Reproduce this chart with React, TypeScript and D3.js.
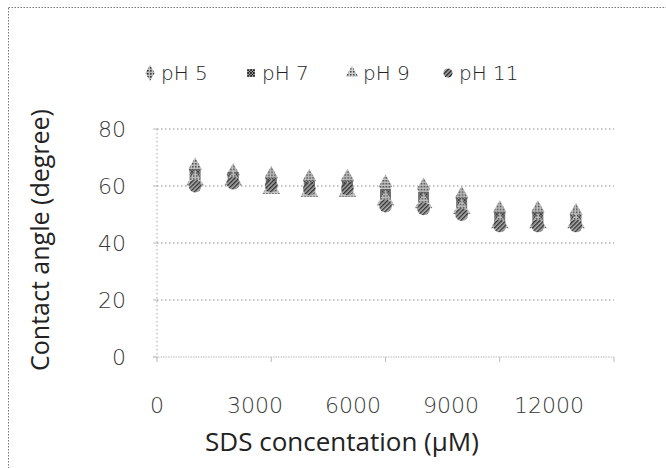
import React from "react";
import * as d3 from "d3";

const concentrations = [1000, 2000, 3000, 4000, 5000, 6000, 7000, 8000, 9000, 10000, 11000];
const pH5 = [66, 64, 63, 62, 62, 60, 59, 56, 51, 51, 50];
const pH7 = [64, 63, 61, 60, 60, 57, 56, 54, 49, 49, 48];
const pH9 = [62, 62, 59, 58, 58, 55, 54, 52, 47, 47, 47];
const pH11 = [60, 61, 60, 59, 59, 53, 52, 50, 46, 46, 46];
const seriesNames = ["pH 5", "pH 7", "pH 9", "pH 11"];
const xTicks = [0, 3000, 6000, 9000, 12000];
const yTicks = [0, 20, 40, 60, 80];

const W = 666;
const H = 468;
const plot = { left: 157, right: 614, top: 129, bottom: 357 };

export default function App() {
  const x = d3.scaleLinear().domain([0, 12000]).range([plot.left, plot.right]);
  const xLab = d3.scaleLinear().domain([0, 12000]).range([157, 549]);
  const y = d3.scaleLinear().domain([0, 80]).range([plot.bottom, plot.top]);
  const allSeries = [pH5, pH7, pH9, pH11];
  const symbols = [d3.symbolDiamond, d3.symbolSquare, d3.symbolTriangle, d3.symbolCircle];
  const sizes = [150, 120, 140, 130];
  const fills = ["url(#pDots)", "url(#pCross)", "url(#pDots2)", "url(#pHatch)"];
  const legendX = [150, 251, 352, 448];
  const font = "'DejaVu Sans', sans-serif";
  const titleFont = "'Open Sans', 'DejaVu Sans', sans-serif";

  return (
    <svg width={W} height={H} style={{ position: "absolute", left: 0, top: 0 }}>
      <defs>
        <pattern id="pDots" width="3" height="3" patternUnits="userSpaceOnUse">
          <rect width="3" height="3" fill="#bbb" />
          <rect width="1.6" height="1.6" fill="#333" />
        </pattern>
        <pattern id="pDots2" width="3" height="3" patternUnits="userSpaceOnUse">
          <rect width="3" height="3" fill="#ccc" />
          <rect x="1" y="1" width="1.5" height="1.5" fill="#444" />
        </pattern>
        <pattern id="pCross" width="3" height="3" patternUnits="userSpaceOnUse">
          <rect width="3" height="3" fill="#999" />
          <path d="M0,0 L3,3 M3,0 L0,3" stroke="#111" strokeWidth="0.8" />
        </pattern>
        <pattern id="pHatch" width="3" height="3" patternUnits="userSpaceOnUse" patternTransform="rotate(45)">
          <rect width="3" height="3" fill="#aaa" />
          <rect width="1.4" height="3" fill="#222" />
        </pattern>
      </defs>
      <rect x={0} y={0} width={W} height={H} fill="#fff" />
      <rect x={8.5} y={7.5} width={W + 20} height={H + 20} fill="none" stroke="#777" strokeDasharray="1.5,1.5" />

      {/* gridlines */}
      {yTicks.filter((t) => t > 0).map((t) => (
        <line key={t} x1={plot.left} x2={plot.right} y1={y(t)} y2={y(t)} stroke="#888" strokeDasharray="1.5,2.5" />
      ))}
      {/* axes */}
      <line x1={plot.left} x2={plot.left} y1={plot.top} y2={plot.bottom + 4} stroke="#aaa" strokeDasharray="1.5,2.5" />
      <line x1={plot.left - 4} x2={plot.right} y1={plot.bottom} y2={plot.bottom} stroke="#bbb" strokeDasharray="1.5,1" />
      {xTicks.map((t) => (
        <line key={t} x1={x(t)} x2={x(t)} y1={plot.bottom} y2={plot.bottom + 5} stroke="#bbb" />
      ))}
      {yTicks.map((t) => (
        <line key={t} x1={plot.left - 4} x2={plot.left} y1={y(t)} y2={y(t)} stroke="#bbb" />
      ))}

      {/* tick labels */}
      {yTicks.map((t) => (
        <text key={t} x={126} y={y(t) + 8} textAnchor="end" fontFamily={font} fontWeight={200} fontSize={22} fill="#3a3a3a">
          {t}
        </text>
      ))}
      {xTicks.map((t) => (
        <text key={t} x={xLab(t)} y={413} textAnchor="middle" fontFamily={font} fontWeight={200} fontSize={22} fill="#3a3a3a">
          {t}
        </text>
      ))}

      {/* points */}
      {allSeries.map((vals, si) =>
        vals.map((v, i) => (
          <path
            key={`${si}-${i}`}
            d={d3.symbol().type(symbols[si]).size(sizes[si])() as string}
            transform={`translate(${x(concentrations[i])},${y(v)})`}
            fill={fills[si]}
            opacity={0.9}
          />
        ))
      )}

      {/* legend */}
      {seriesNames.map((n, si) => (
        <g key={n}>
          <path
            d={d3.symbol().type(symbols[si]).size(sizes[si] * 0.5)() as string}
            transform={`translate(${legendX[si]},${73})`}
            fill={fills[si]}
          />
          <text x={legendX[si] + 11} y={80} fontFamily={font} fontWeight={200} fontSize={20} fill="#222">
            {n}
          </text>
        </g>
      ))}

      {/* axis titles */}
      <text
        transform={`translate(49,240) rotate(-90)`}
        textAnchor="middle"
        fontFamily={titleFont}
        fontSize={25}
        fill="#222"
      >
        Contact angle (degree)
      </text>
      <text x={342} y={451} textAnchor="middle" fontFamily={titleFont} fontSize={26} fill="#222">
        SDS concentation (μM)
      </text>
    </svg>
  );
}
